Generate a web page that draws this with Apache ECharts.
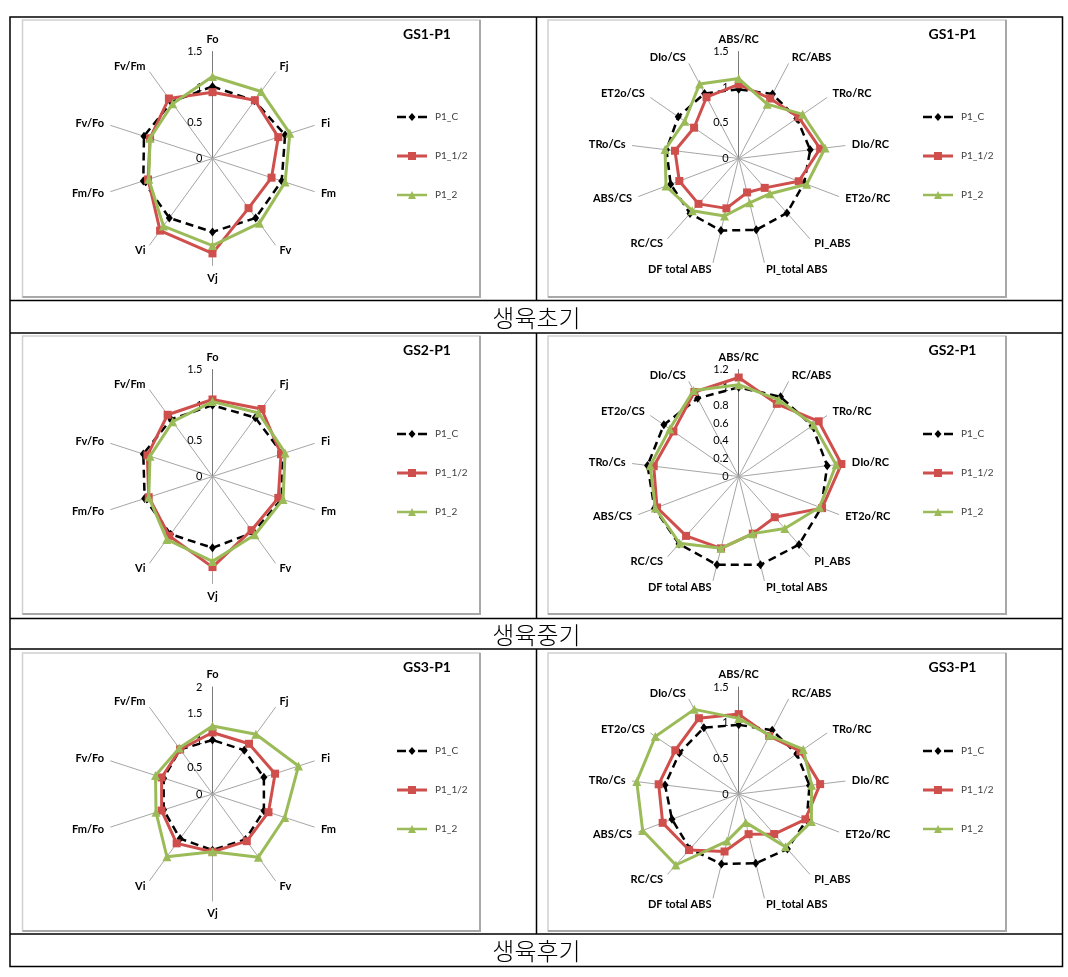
<!DOCTYPE html>
<html><head><meta charset="utf-8">
<script src="https://cdn.jsdelivr.net/npm/echarts@6/dist/echarts.min.js"></script>
<style>html,body{margin:0;padding:0;background:#fff}#c{width:1068px;height:977px}</style>
</head><body><div id="c"></div>
<script>
// ---------- data ----------
const seriesNames = ['P1_C', 'P1_1/2', 'P1_2'];
const fluorAxes = ['Fo','Fj','Fi','Fm','Fv','Vj','Vi','Fm/Fo','Fv/Fo','Fv/Fm'];
const jipAxes = ['ABS/RC','RC/ABS','TRo/RC','DIo/RC','ET2o/RC','PI_ABS','PI_total ABS','DF total ABS','RC/CS','ABS/CS','TRo/Cs','ET2o/CS','DIo/CS'];
const stageLabels = ['생육초기', '생육중기', '생육후기'];
const panelTitles = ['GS1-P1', 'GS2-P1', 'GS3-P1'];
const fluorMax = [1.5, 1.5, 2];
const fluorSplit = [3, 3, 4];
const jipMax = [1.5, 1.2, 1.5];
const jipSplit = [3, 6, 3];

// GS1 - fluorescence parameters
const gs1FluorC    = [1.01, 1.00, 1.07, 1.02, 1.03, 1.03, 1.03, 1.02, 1.01, 0.98];
const gs1FluorHalf = [0.93, 1.01, 0.97, 0.87, 0.86, 1.33, 1.25, 0.95, 0.92, 1.04];
const gs1FluorTwo  = [1.15, 1.16, 1.14, 1.07, 1.12, 1.22, 1.17, 0.94, 0.92, 0.95];
// GS1 - JIP parameters
const gs1JipC    = [0.97, 1.02, 0.99, 1.01, 0.98, 1.02, 1.03, 1.04, 1.03, 1.02, 1.02, 1.03, 1.03];
const gs1JipHalf = [1.04, 0.95, 1.02, 1.15, 0.90, 0.55, 0.49, 0.72, 0.85, 0.89, 0.90, 0.76, 0.97];
const gs1JipTwo  = [1.12, 0.86, 1.09, 1.22, 1.02, 0.66, 0.64, 0.83, 0.98, 1.09, 1.04, 0.92, 1.18];
// GS2 - fluorescence parameters
const gs2FluorC    = [1.00, 1.02, 1.03, 1.02, 0.97, 1.00, 1.00, 1.00, 1.02, 0.99];
const gs2FluorHalf = [1.08, 1.17, 1.01, 0.97, 0.93, 1.27, 1.03, 0.94, 0.96, 1.07];
const gs2FluorTwo  = [1.05, 1.10, 1.07, 1.04, 1.01, 1.19, 1.09, 0.94, 0.92, 0.95];
// GS2 - JIP parameters
const gs2JipC    = [1.00, 1.01, 1.00, 1.00, 0.99, 1.02, 1.02, 1.02, 1.01, 1.01, 1.03, 1.02, 0.99];
const gs2JipHalf = [1.11, 0.92, 1.09, 1.16, 1.00, 0.61, 0.66, 0.83, 0.89, 0.98, 0.96, 0.89, 1.07];
const gs2JipTwo  = [1.03, 0.97, 1.02, 1.10, 0.97, 0.78, 0.66, 0.83, 1.00, 1.00, 1.00, 0.94, 1.09];
// GS3 - fluorescence parameters
const gs3FluorC    = [1.01, 1.01, 1.01, 1.01, 1.05, 1.05, 1.03, 0.96, 0.96, 1.03];
const gs3FluorHalf = [1.15, 1.16, 1.23, 1.10, 1.09, 1.08, 1.14, 1.00, 1.00, 1.03];
const gs3FluorTwo  = [1.27, 1.38, 1.69, 1.42, 1.46, 1.08, 1.45, 1.11, 1.12, 1.06];
// GS3 - JIP parameters
const gs3JipC    = [0.97, 1.01, 0.99, 1.00, 1.02, 1.03, 1.00, 1.01, 1.03, 1.00, 1.04, 1.01, 1.05];
const gs3JipHalf = [1.12, 0.92, 1.05, 1.15, 1.00, 0.75, 0.58, 0.83, 1.05, 1.14, 1.13, 1.08, 1.20];
const gs3JipTwo  = [1.06, 0.93, 1.10, 1.03, 1.09, 0.99, 0.41, 0.68, 1.33, 1.44, 1.44, 1.42, 1.34];

const fluorData = [[gs1FluorC, gs1FluorHalf, gs1FluorTwo], [gs2FluorC, gs2FluorHalf, gs2FluorTwo], [gs3FluorC, gs3FluorHalf, gs3FluorTwo]];
const jipData = [[gs1JipC, gs1JipHalf, gs1JipTwo], [gs2JipC, gs2JipHalf, gs2JipTwo], [gs3JipC, gs3JipHalf, gs3JipTwo]];

// ---------- layout ----------
const FONT = 'Lato, "Open Sans", sans-serif';
const rowCenterY = [158.5, 476.5, 794];
const colCenterX = [212.5, 738.7];
const titleY = [34.5, 350.5, 667];
const titleX = [427, 952.5];
const legendTop = [107, 424, 741];
const legendLeft = [392, 918];
const boxRows = [[20, 297], [336, 614], [653, 931]];
const boxCols = [[22.5, 480], [548, 1006]];
const captionY = [318, 634.5, 951];

// ECharts lays radar axes counter-clockwise; reorder so the picture reads clockwise
function cw(arr) { return [arr[0]].concat(arr.slice(1).reverse()); }
function fmtTick(v) { return String(Math.round(v * 1000) / 1000); }

const styleDefs = [
  { color: '#000000', symbol: 'diamond', symbolSize: [7, 9], lineStyle: { width: 2.5, type: [8, 5] } },
  { color: '#CF4F4C', symbol: 'rect', symbolSize: 8, lineStyle: { width: 3, type: 'solid' } },
  { color: '#9BBB59', symbol: 'triangle', symbolSize: 9, lineStyle: { width: 3, type: 'solid' } }
];
const legendIcons = [
  'path://M0,2.7h9v2.6h-9z M21,2.7h9v2.6h-9z M15,0L18.5,4L15,8L11.5,4z',
  'path://M0,2.5h30v3h-30z M11,0h8v8h-8z',
  'path://M0,2.8h30v2.4h-30z M15,0L19,8L11,8z'
];

const radars = [], series = [], legends = [], graphics = [];

for (let r = 0; r < 3; r++) {
  for (let c = 0; c < 2; c++) {
    const axes = c === 0 ? fluorAxes : jipAxes;
    const max = c === 0 ? fluorMax[r] : jipMax[r];
    const split = c === 0 ? fluorSplit[r] : jipSplit[r];
    const groups = c === 0 ? fluorData[r] : jipData[r];
    const ri = radars.length;
    radars.push({
      center: [colCenterX[c], rowCenterY[r]],
      radius: 107,
      startAngle: 90,
      splitNumber: split,
      shape: 'polygon',
      nameGap: 7,
      axisName: { color: '#000', fontSize: 11, fontWeight: 'bold', fontFamily: FONT },
      axisLine: { show: true, lineStyle: { color: '#a6a6a6', width: 1 } },
      axisTick: { show: false },
      axisLabel: { show: false, color: '#000', fontSize: 11, fontFamily: FONT, margin: 10, formatter: fmtTick },
      splitLine: { show: false },
      splitArea: { show: false },
      indicator: cw(axes).map((n, i) => i === 0
        ? { name: n, min: 0, max: max, axisLabel: { show: true }, axisLine: { lineStyle: { color: '#7a7a7a' } } }
        : { name: n, min: 0, max: max })
    });
    groups.forEach((vals, gi) => {
      const s = styleDefs[gi];
      series.push({
        type: 'radar',
        name: seriesNames[gi],
        radarIndex: ri,
        symbol: s.symbol,
        symbolSize: s.symbolSize,
        z: 2 + gi,
        itemStyle: { color: s.color },
        lineStyle: Object.assign({ color: s.color }, s.lineStyle),
        data: [{ name: seriesNames[gi], value: cw(vals) }]
      });
    });
    legends.push({
      orient: 'vertical',
      left: legendLeft[c],
      top: legendTop[r],
      itemWidth: 30,
      itemHeight: 8,
      itemGap: 29,
      selectedMode: false,
      itemStyle: { borderWidth: 0 },
      textStyle: { fontSize: 10, color: '#404040', fontFamily: FONT, padding: [0, 0, 0, 3] },
      data: seriesNames.map((n, i) => ({ name: n, icon: legendIcons[i] }))
    });
    // chart area box
    const [x1, x2] = boxCols[c], [y1, y2] = boxRows[r];
    graphics.push({ type: 'rect', silent: true, shape: { x: x1, y: y1, width: x2 - x1, height: y2 - y1 },
      style: { fill: 'none', stroke: '#d0d0d0', lineWidth: 1.5 } });
    graphics.push({ type: 'polyline', silent: true, shape: { points: [[x2, y1], [x2, y2], [x1, y2]] },
      style: { fill: 'none', stroke: '#a8a8a8', lineWidth: 2 } });
    graphics.push({ type: 'text', silent: true, x: titleX[c], y: titleY[r],
      style: { text: panelTitles[r], fill: '#000', font: 'bold 14px ' + FONT, textAlign: 'center', textVerticalAlign: 'middle' } });
  }
  graphics.push({ type: 'text', silent: true, x: 536.5, y: captionY[r],
    style: { text: stageLabels[r], fill: '#000', fontSize: 24, fontWeight: 300, fontFamily: '"Noto Sans CJK KR", sans-serif', textAlign: 'center', textVerticalAlign: 'middle' } });
}

// table lines
graphics.push({ type: 'rect', silent: true, shape: { x: 10, y: 17, width: 1052.5, height: 949.5 }, style: { fill: 'none', stroke: '#000', lineWidth: 1.5 } });
[300.5, 333, 618.5, 649, 934].forEach(y => graphics.push({ type: 'line', silent: true, shape: { x1: 10, y1: y, x2: 1062.5, y2: y }, style: { stroke: '#000', lineWidth: 1.5 } }));
[[17, 300.5], [333, 618.5], [649, 934]].forEach(([a, b]) => graphics.push({ type: 'line', silent: true, shape: { x1: 536.5, y1: a, x2: 536.5, y2: b }, style: { stroke: '#000', lineWidth: 1.5 } }));

const chart = echarts.init(document.getElementById('c'), null, { renderer: 'canvas' });
chart.setOption({
  animation: false,
  backgroundColor: '#fff',
  radar: radars,
  legend: legends,
  graphic: { elements: graphics },
  series: series
});
</script></body></html>
